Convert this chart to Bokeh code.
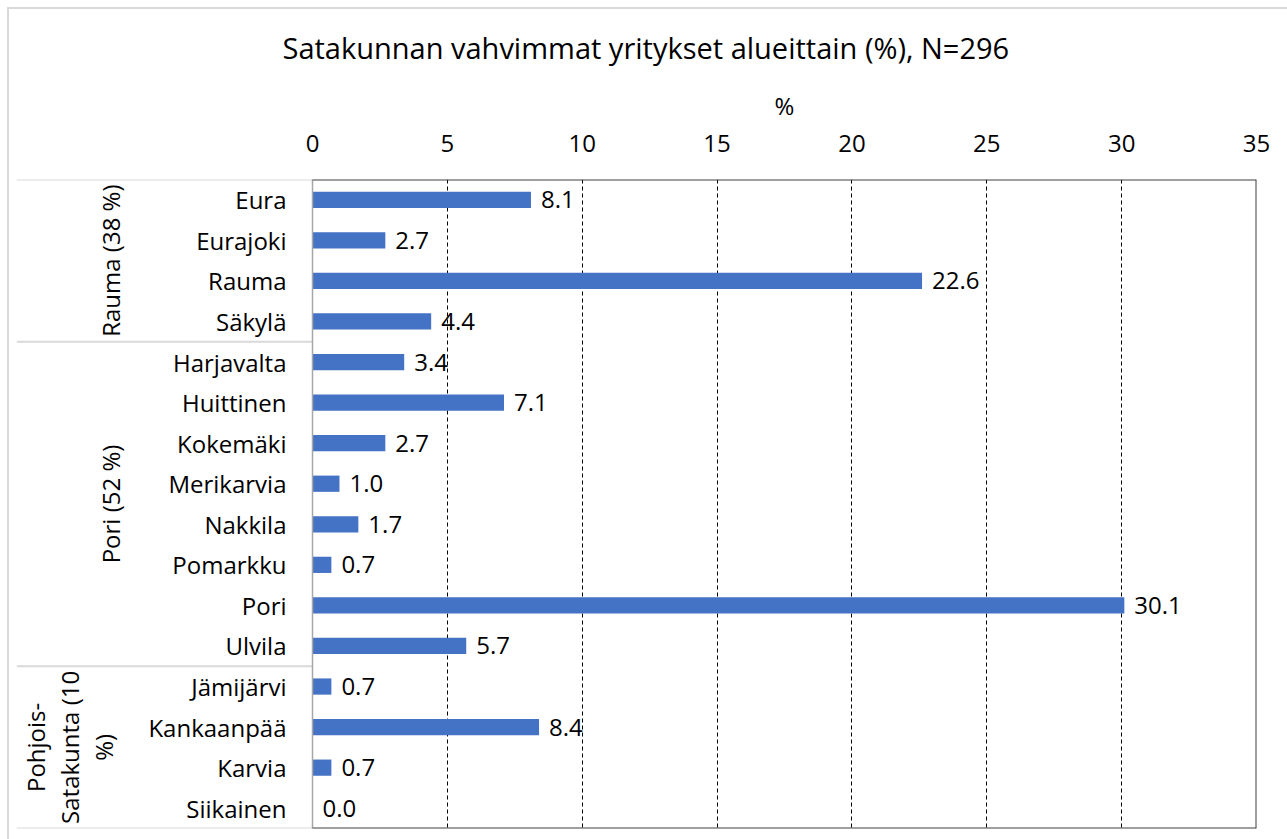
import math
from bokeh.plotting import figure
from bokeh.models import Range1d, FixedTicker, LinearAxis
from bokeh.embed import file_html
from bokeh.resources import INLINE
from bokeh.core.properties import value

# ---- data ----
municipalities = ["Eura", "Eurajoki", "Rauma", "Säkylä",
                  "Harjavalta", "Huittinen", "Kokemäki", "Merikarvia",
                  "Nakkila", "Pomarkku", "Pori", "Ulvila",
                  "Jämijärvi", "Kankaanpää", "Karvia", "Siikainen"]
shares = [8.1, 2.7, 22.6, 4.4,
          3.4, 7.1, 2.7, 1.0,
          1.7, 0.7, 30.1, 5.7,
          0.7, 8.4, 0.7, 0.0]
group_names = [["Rauma (38 %)"], ["Pori (52 %)"], ["Pohjois-", "Satakunta (10", "%)"]]
group_sizes = [4, 8, 4]
x_ticks = [0, 5, 10, 15, 20, 25, 30, 35]
title_text = "Satakunnan vahvimmat yritykset alueittain (%), N=296"

# ---- layout (pixels) ----
FONT = "Open Sans"
W, H = 1287, 839
FRAME_L, ZERO_PX, FRAME_R = 16, 312, 1256
FRAME_T, FRAME_B = 179, 828
TITLE_L = 282
XMAX = x_ticks[-1]
ppu = (FRAME_R - ZERO_PX) / XMAX
x_left = -(ZERO_PX - FRAME_L) / ppu

idx = list(range(len(municipalities)))
labels = [f"{v:.1f}" for v in shares]
n = len(idx)
y_top, y_bot = -0.5, n - 0.5

p = figure(width=W, height=H, output_backend="svg", toolbar_location=None,
           x_range=Range1d(x_left, XMAX), y_range=Range1d(y_bot, y_top),
           x_axis_location="above", y_axis_location=None,
           min_border_left=FRAME_L, min_border_right=W - FRAME_R,
           min_border_top=FRAME_T, min_border_bottom=H - FRAME_B)
p.background_fill_color = "white"
p.border_fill_color = None
p.outline_line_color = None
p.styles = {
    "background-color": "white",
    "background-image": "linear-gradient(#d9d9d9,#d9d9d9), linear-gradient(#d9d9d9,#d9d9d9)",
    "background-size": "100% 2px, 2px 100%",
    "background-position": "7px 7px, 7px 7px",
    "background-repeat": "no-repeat",
}

# grid
p.xgrid.ticker = FixedTicker(ticks=x_ticks[1:-1])
p.xgrid.grid_line_color = "#000000"
p.xgrid.grid_line_dash = "4 3"
p.xgrid.grid_line_width = 1
p.ygrid.grid_line_color = None

# group boundaries
bounds = [y_top]
s = 0
for g in group_sizes:
    s += g
    bounds.append(s - 0.5)

# separators in the label area
p.segment(x0=[x_left] * len(bounds), x1=[0] * len(bounds), y0=bounds, y1=bounds,
          line_color="#d9d9d9", line_width=2)

# bars and value labels
p.hbar(y=idx, left=0, right=shares, height=0.4, fill_color="#4472C4", line_color=None)
p.text(x=shares, y=idx, text=labels, x_offset=10, text_baseline="middle",
       text_align="left", text_font=value(FONT), text_font_size="24px",
       text_color="#000000")

# plot box: left axis line (gray) + top/right/bottom (dark)
p.segment(x0=[0], x1=[0], y0=[y_top], y1=[y_bot], line_color="#a6a6a6", line_width=1.5)
p.segment(x0=[0, XMAX, 0], x1=[XMAX, XMAX, XMAX], y0=[y_top, y_top, y_bot],
          y1=[y_top, y_bot, y_bot], line_color="#404040", line_width=2)

# category labels
p.text(x=[0] * n, y=idx, text=municipalities, x_offset=-26, text_baseline="middle",
       text_align="right", text_font=value(FONT), text_font_size="24px",
       text_color="#000000")

# group labels (rotated)
gx, gy, gt = [], [], []
start = 0
for names, g in zip(group_names, group_sizes):
    center = start + g / 2 - 0.5
    k = len(names)
    for j, t in enumerate(names):
        gx.append(110 - ZERO_PX if k == 1 else 35 + 34 * j - ZERO_PX)
        gy.append(center)
        gt.append(t)
    start += g
p.text(x=[0] * len(gt), y=gy, text=gt, x_offset=gx, angle=math.pi / 2,
       text_align="center", text_baseline="middle", text_font=value(FONT),
       text_font_size="24px", text_color="#000000")

# top axis (ticks)
xa = p.xaxis[0]
xa.ticker = FixedTicker(ticks=x_ticks)
xa.major_label_text_font = FONT
xa.major_label_text_font_size = "24px"
xa.major_label_text_color = "#000000"
xa.major_label_standoff = 22
xa.axis_line_color = None
xa.major_tick_line_color = None
xa.minor_tick_line_color = None

# "%" axis title, centred over the value scale
pa = LinearAxis(ticker=FixedTicker(ticks=[XMAX / 2]),
                major_label_overrides={XMAX / 2: "%"})
pa.major_label_text_font = FONT
pa.major_label_text_font_size = "24px"
pa.major_label_text_color = "#000000"
pa.major_label_standoff = 4
pa.axis_line_color = None
pa.major_tick_line_color = None
pa.minor_tick_line_color = None
p.add_layout(pa, "above")

# title
p.title.text = title_text
p.title.align = "left"
p.title.offset = TITLE_L - FRAME_L
p.title.standoff = 37
p.title.text_font = FONT
p.title.text_font_size = "29px"
p.title.text_font_style = "normal"
p.title.text_color = "#000000"

open("out.html", "w").write(file_html(p, INLINE))
